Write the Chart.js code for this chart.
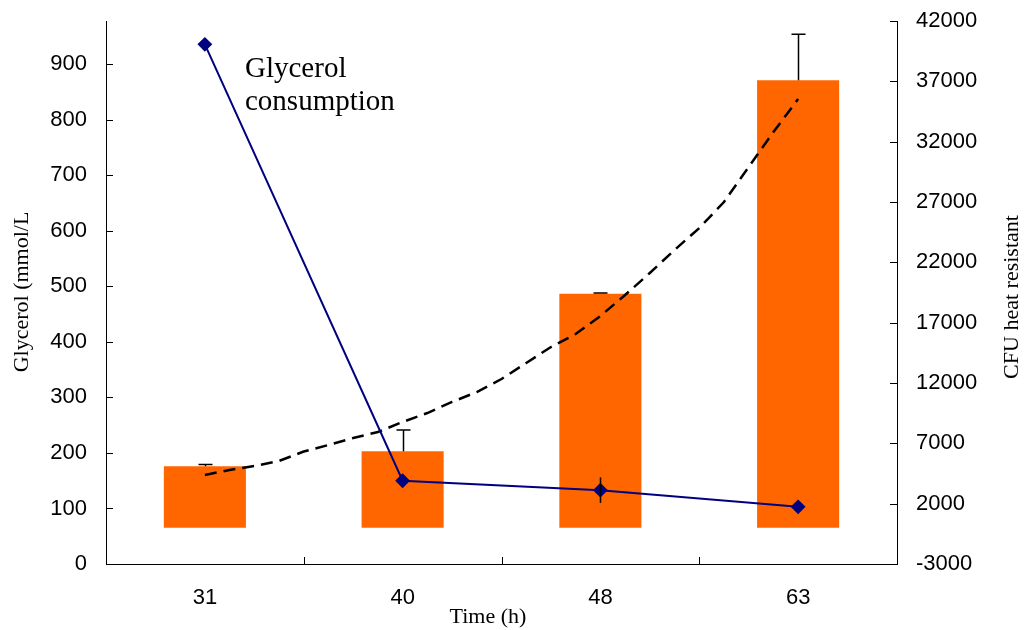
<!DOCTYPE html>
<html>
<head>
<meta charset="utf-8">
<title>Glycerol consumption and heat resistant CFU</title>
<script src="https://cdn.jsdelivr.net/npm/chart.js@4.4.1/dist/chart.umd.min.js"></script>
<style>
  html, body { margin: 0; padding: 0; background: #fff; }
  #wrap { width: 1026px; height: 630px; }
</style>
</head>
<body>
<div id="wrap"><canvas id="glycerolChart"></canvas></div>
<script>
const hours = ["31", "40", "48", "63"];

// heat resistant CFU per sampling time (right axis)
const cfuValues = [5100, 6350, 19400, 37100];
const cfuErrors = [150, 1750, 60, 3800];

// glycerol left in the medium (left axis)
const glycerolValues = [936, 150, 133, 103];
const glycerolErrors = [0, 0, 23, 0];

// exponential trend through the CFU bars, positions in category units
const trendPositions = [0, 0.125, 0.25, 0.375, 0.5, 0.625, 0.75, 0.875, 1,
  1.125, 1.25, 1.375, 1.5, 1.625, 1.75, 1.875, 2,
  2.125, 2.25, 2.375, 2.5, 2.625, 2.75, 2.875, 3];
const trendValues = [4380, 4790, 5120, 5540, 6320, 6860, 7440, 7940, 8770,
  9510, 10430, 11250, 12330, 13660, 14980, 16060, 17550,
  19290, 21120, 23020, 24840, 27000, 29900, 32800, 35530];

const leftTicks = [0, 100, 200, 300, 400, 500, 600, 700, 800, 900];
const rightTicks = [-3000, 2000, 7000, 12000, 17000, 22000, 27000, 32000, 37000, 42000];

const SANS = "'Liberation Sans', Arial, sans-serif";
const SERIF = "'Liberation Serif', 'Times New Roman', serif";

// vertical error bars: CFU bars upward with a cap, glycerol point both ways
const errorBars = {
  id: "errorBars",
  afterDatasetsDraw(chart) {
    const { ctx, scales } = chart;
    ctx.save();
    ctx.strokeStyle = "#000";
    ctx.lineWidth = 1.5;
    cfuValues.forEach((v, i) => {
      if (!cfuErrors[i]) return;
      const px = Math.round(scales.x.getPixelForValue(i)) + 0.5;
      const yTop = scales.y1.getPixelForValue(v);
      const yErr = scales.y1.getPixelForValue(v + cfuErrors[i]);
      ctx.beginPath();
      ctx.moveTo(px, yTop);
      ctx.lineTo(px, yErr);
      ctx.moveTo(px - 7, yErr);
      ctx.lineTo(px + 7, yErr);
      ctx.stroke();
    });
    glycerolValues.forEach((v, i) => {
      if (!glycerolErrors[i]) return;
      const px = Math.round(scales.x.getPixelForValue(i)) + 0.5;
      ctx.beginPath();
      ctx.moveTo(px, scales.y.getPixelForValue(v - glycerolErrors[i]));
      ctx.lineTo(px, scales.y.getPixelForValue(v + glycerolErrors[i]));
      ctx.stroke();
    });
    ctx.restore();
  }
};

// tick marks pointing into the plot area
const innerTicks = {
  id: "innerTicks",
  afterDraw(chart) {
    const { ctx, chartArea, scales } = chart;
    ctx.save();
    ctx.strokeStyle = "#000";
    ctx.lineWidth = 1;
    ctx.beginPath();
    scales.y.ticks.forEach(t => {
      const py = Math.round(scales.y.getPixelForValue(t.value)) + 0.5;
      ctx.moveTo(chartArea.left, py);
      ctx.lineTo(chartArea.left + 7, py);
    });
    scales.y1.ticks.forEach(t => {
      const py = Math.round(scales.y1.getPixelForValue(t.value)) + 0.5;
      ctx.moveTo(chartArea.right - 7, py);
      ctx.lineTo(chartArea.right, py);
    });
    for (let i = 0; i < hours.length - 1; i++) {
      const px = Math.round((scales.x.getPixelForValue(i) + scales.x.getPixelForValue(i + 1)) / 2) + 0.5;
      ctx.moveTo(px, chartArea.bottom);
      ctx.lineTo(px, chartArea.bottom - 7);
    }
    ctx.stroke();
    ctx.restore();
  }
};

// axis titles and the in-plot label
const chartText = {
  id: "chartText",
  afterDraw(chart) {
    const ctx = chart.ctx;
    ctx.save();
    ctx.fillStyle = "#000";
    ctx.font = "22px " + SERIF;
    ctx.textAlign = "center";
    ctx.textBaseline = "middle";

    ctx.save();
    ctx.translate(22, 292);
    ctx.rotate(-Math.PI / 2);
    ctx.fillText("Glycerol (mmol/L", 0, 0);
    ctx.restore();

    ctx.save();
    ctx.translate(1012, 297);
    ctx.rotate(-Math.PI / 2);
    ctx.fillText("CFU heat resistant", 0, 0);
    ctx.restore();

    ctx.fillText("Time (h)", 488, 617);

    ctx.font = "29px " + SERIF;
    ctx.textAlign = "left";
    ctx.textBaseline = "alphabetic";
    ctx.fillText("Glycerol", 245, 77);
    ctx.fillText("consumption", 245, 110);
    ctx.restore();
  }
};

const axisLine = { display: true, color: "#000", width: 1 };
const noGrid = { display: true, drawOnChartArea: false, drawTicks: false };
const tickFont = { family: SANS, size: 22 };
const plainNumber = value => String(value);

const ctx = document.getElementById("glycerolChart").getContext("2d");
new Chart(ctx, {
  type: "bar",
  data: {
    labels: hours,
    datasets: [
      {
        type: "line",
        label: "Glycerol",
        data: glycerolValues,
        xAxisID: "x",
        yAxisID: "y",
        borderColor: "#000080",
        backgroundColor: "#000080",
        borderWidth: 2,
        pointStyle: "rectRot",
        pointRadius: 6,
        tension: 0,
        order: 1
      },
      {
        type: "line",
        label: "Trend",
        data: trendPositions.map((p, i) => ({ x: p, y: trendValues[i] })),
        xAxisID: "xTrend",
        yAxisID: "y1",
        borderColor: "#000",
        borderWidth: 2.5,
        borderDash: [12, 7],
        pointRadius: 0,
        tension: 0,
        order: 2
      },
      {
        type: "bar",
        label: "CFU heat resistant",
        data: cfuValues,
        xAxisID: "x",
        yAxisID: "y1",
        backgroundColor: "#FF6600",
        grouped: false,
        categoryPercentage: 1,
        barPercentage: 0.415,
        order: 3
      }
    ]
  },
  options: {
    responsive: true,
    maintainAspectRatio: false,
    animation: false,
    layout: { padding: { top: 21, left: 0, right: 0, bottom: 0 } },
    plugins: {
      legend: { display: false },
      tooltip: { enabled: false }
    },
    scales: {
      x: {
        type: "category",
        offset: true,
        grid: { ...noGrid, offset: true },
        border: axisLine,
        ticks: { color: "#000", font: tickFont, padding: 21, maxRotation: 0 },
        afterFit: scale => { scale.height = 66; scale.paddingLeft = 0; scale.paddingRight = 0; }
      },
      xTrend: {
        type: "linear",
        display: false,
        offset: false,
        bounds: "ticks",
        min: -0.5,
        max: 3.5
      },
      y: {
        position: "left",
        min: 0,
        max: 978,
        grid: noGrid,
        border: axisLine,
        ticks: { color: "#000", font: tickFont, padding: 19, callback: plainNumber },
        afterBuildTicks: scale => { scale.ticks = leftTicks.map(v => ({ value: v })); },
        afterFit: scale => { scale.width = 106; scale.paddingTop = 0; scale.paddingBottom = 0; }
      },
      y1: {
        position: "right",
        min: -3000,
        max: 42000,
        grid: noGrid,
        border: axisLine,
        ticks: { color: "#000", font: tickFont, padding: 19, callback: plainNumber },
        afterBuildTicks: scale => { scale.ticks = rightTicks.map(v => ({ value: v })); },
        afterFit: scale => { scale.width = 129; scale.paddingTop = 0; scale.paddingBottom = 0; }
      }
    }
  },
  plugins: [errorBars, innerTicks, chartText]
});
</script>
</body>
</html>
